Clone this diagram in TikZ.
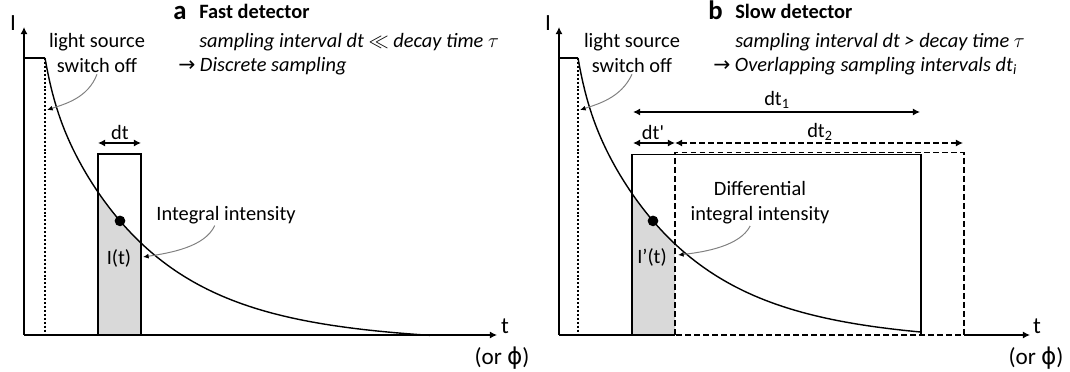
\documentclass[tikz,border=0pt]{standalone}
\usepackage{fontspec}
\setmainfont{Carlito}
\newfontfamily\symfont{DejaVu Sans}
\usetikzlibrary{arrows.meta}

\begin{document}
\begin{tikzpicture}[x=0.025cm,y=-0.025cm,
	declare function={ff(\x)=0.12*exp(-\x/10)+0.88*exp(-\x/100)-0.02*\x/385;
		ya(\x)=335-277*ff(\x-45); yb(\x)=335-277*ff(\x-578);},
	txt/.style={font=\fontsize{14.5}{17.7}\selectfont,inner sep=1pt},
	axlabel/.style={font=\fontsize{16.5}{18}\selectfont,inner sep=1pt},
	head/.style={font=\fontsize{14.5}{17.7}\selectfont\bfseries,anchor=base west,inner sep=0pt},
	sub/.style={font=\fontsize{14.5}{17.7}\selectfont\itshape,anchor=base west,inner sep=0pt},
	panel/.style={font=\fontsize{19}{20}\selectfont\bfseries,anchor=base west,inner sep=0pt},
	axis/.style={line width=1pt,-{Latex[length=5pt,width=5pt]}},
	solidline/.style={line width=1pt},
	dottedline/.style={line width=1pt,dash pattern=on 1.4pt off 1.4pt},
	dashedline/.style={line width=1pt,dash pattern=on 4pt off 2.4pt},
	dimline/.style={line width=1pt,{Latex[length=5pt,width=5pt]}-{Latex[length=5pt,width=5pt]}},
	note/.style={draw=gray,line width=0.7pt,-{Latex[length=4pt,width=3.5pt,color=black]}},
	shade/.style={fill=gray!30},
	dot/.style={circle,fill=black,inner sep=0pt,minimum size=7.6pt}]
	\useasboundingbox (0,0) rectangle (1070,372);

	% a: fast detector
	\coordinate (Oa) at (24,335);
	\coordinate (Ya) at (24,27);
	\coordinate (Xa) at (497,335);
	\fill[shade] (98,335) -- plot[domain=98:141,samples=30] (\x,{ya(\x)}) -- (141,335) -- cycle;
	\draw[axis] (Oa) -- (Ya);
	\draw[axis] (Oa) -- (Xa);
	\draw[solidline] (24,58) -- (45,58);
	\draw[dottedline] (45,58) -- (45,335);
	\draw[solidline] plot[domain=45:430,samples=200] (\x,{ya(\x)});
	\draw[solidline] (98,335) |- (141,154) -- (141,335);
	\node[dot] (pa) at (120,{ya(120)}) {};
	\coordinate (dta-l) at (98,143);
	\coordinate (dta-r) at (141,143);
	\draw[dimline] (dta-l) -- (dta-r);

	\node[axlabel] (Ia) at (13,23) {I};
	\node[axlabel] (ta) at (505,326) {t};
	\node[axlabel] (ora) at (502,358) {(or {\symfont ϕ})};
	\node[txt] (dta) at (120,132) {dt};
	\node[txt] (ita) at (119,258) {I(t)};
	\node[txt,align=center] (lsa) at (97,53) {light source\\switch off};
	\node[txt] (iia) at (226,215) {Integral intensity};
	\coordinate (lsa-tip) at (47,110);
	\coordinate (iia-tip) at (143,257);
	\draw[note] (lsa.south) .. controls (88,98) and (65,104) .. (lsa-tip);
	\draw[note] ([xshift=-8pt]iia.south) .. controls (205,247) and (170,253) .. (iia-tip);

	\node[panel] (laba) at (173,20) {a};
	\node[head] (tita) at (199,19) {Fast detector};
	\node[sub] (sama) at (199,47.5) {sampling interval dt $\ll$ decay time $\tau$};
	\node[txt,anchor=base west,inner sep=0pt] (resa) at (178,71.5) {{\symfont→} \textit{Discrete sampling}};

	% b: slow detector
	\coordinate (Ob) at (559,335);
	\coordinate (Yb) at (559,27);
	\coordinate (Xb) at (1030,335);
	\fill[shade] (632,335) -- plot[domain=632:675,samples=30] (\x,{yb(\x)}) -- (675,335) -- cycle;
	\draw[axis] (Ob) -- (Yb);
	\draw[solidline] (Ob) -- (675,335);
	\draw[axis] (964,335) -- (Xb);
	\draw[solidline] (559,58) -- (578,58);
	\draw[dottedline] (578,58) -- (578,335);
	\draw[dashedline] (675,335) -- (675,152.5) -- (964,152.5) -- (964,335) -- cycle;
	\draw[solidline] (632,335) |- (921,154.5) -- (921,335);
	\draw[solidline] plot[domain=578:921,samples=200] (\x,{yb(\x)});
	\node[dot] (pb) at (653,{yb(653)}) {};
	\coordinate (dt1-l) at (633,112);
	\coordinate (dt1-r) at (920,112);
	\coordinate (dtp-l) at (633,143);
	\coordinate (dtp-r) at (675,143);
	\coordinate (dt2-r) at (963,143);
	\draw[dimline] (dt1-l) -- (dt1-r);
	\draw[dimline] (dtp-l) -- (dtp-r);
	\draw[dimline,dash pattern=on 4pt off 2.4pt] (dtp-r) -- (dt2-r);

	\node[axlabel] (Ib) at (548,23) {I};
	\node[axlabel] (tb) at (1037,326) {t};
	\node[axlabel] (orb) at (1036,358) {(or {\symfont ϕ})};
	\node[txt] (dt1) at (777,100) {dt\textsubscript{1}};
	\node[txt] (dtp) at (653,132) {dt\textquotesingle};
	\node[txt] (dt2) at (820,132) {dt\textsubscript{2}};
	\node[txt] (itb) at (652,257) {I’(t)};
	\node[txt,align=center] (lsb) at (632,53) {light source\\switch off};
	\node[txt,align=center] (dib) at (760,203) {Differential\\integral intensity};
	\coordinate (lsb-tip) at (580,110);
	\coordinate (dib-tip) at (678,255);
	\draw[note] (lsb.south) .. controls (621,98) and (598,104) .. (lsb-tip);
	\draw[note] ([xshift=-7pt]dib.south) .. controls (740,246) and (705,252) .. (dib-tip);

	\node[panel] (labb) at (708,20) {b};
	\node[head] (titb) at (735,19) {Slow detector};
	\node[sub] (samb) at (735,47.5) {sampling interval dt > decay time $\tau$};
	\node[txt,anchor=base west,inner sep=0pt] (resb) at (713,71.5) {{\symfont→} \textit{Overlapping sampling intervals dt\textsubscript{i}}};
\end{tikzpicture}
\end{document}
